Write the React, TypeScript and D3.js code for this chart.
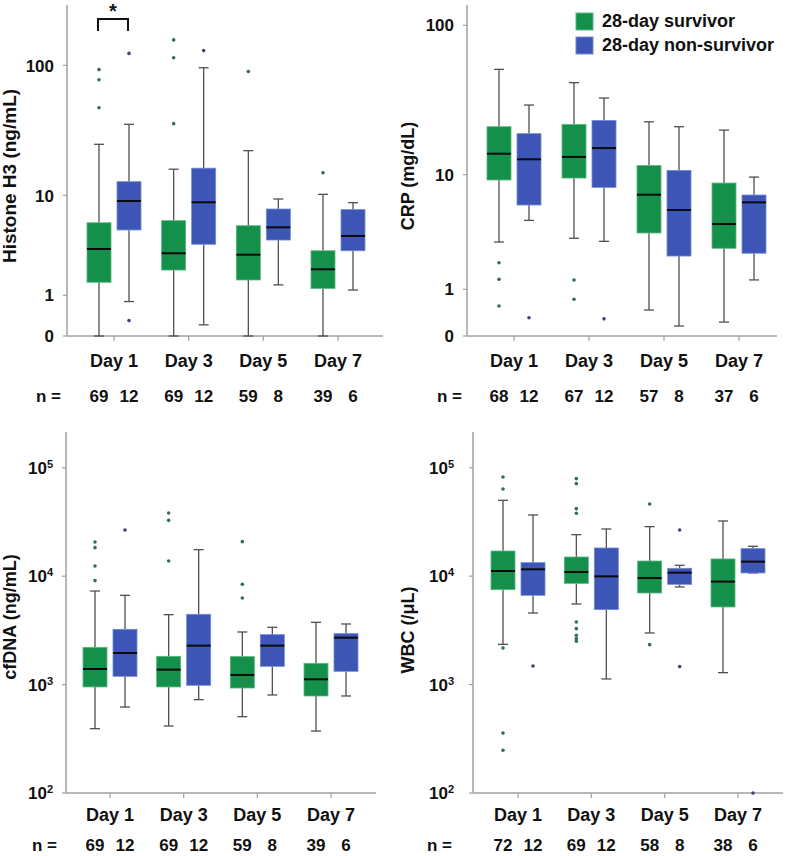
import React from "react";
import * as d3 from "d3";

// ---------- DATA ----------
const days = ["Day 1", "Day 3", "Day 5", "Day 7"];
const groups = ["28-day survivor", "28-day non-survivor"];

// box stats: [lowerWhisker, q1, median, q3, upperWhisker]
const histoneSurvivor = [
  [0, 1.5, 3.41, 5.9, 25.3],
  [0, 2.08, 3.1, 6.15, 16.2],
  [0, 1.6, 3.0, 5.56, 22.6],
  [0, 1.25, 2.12, 3.28, 10.2],
];
const histoneNonSurvivor = [
  [0.8, 5.1, 9.0, 12.9, 36],
  [0.21, 3.78, 8.78, 16.5, 96],
  [1.39, 4.14, 5.38, 7.72, 9.35],
  [1.19, 3.28, 4.51, 7.63, 8.72],
];
const histoneSurvivorOutliers = [[48, 78, 93], [36.4, 114, 155], [90], [15.2]];
const histoneNonSurvivorOutliers = [[0.3, 123], [129], [], []];
const histoneN = [[69, 12], [69, 12], [59, 8], [39, 6]];
const histoneTicks = [0, 1, 10, 100];

const crpSurvivor = [
  [3.04, 9.15, 14.0, 21.4, 51.5],
  [3.27, 9.45, 13.3, 22.2, 42.1],
  [0.47, 3.62, 7.16, 11.6, 23.1],
  [0.23, 2.68, 4.28, 8.7, 20.3],
];
const crpNonSurvivor = [
  [4.57, 6.0, 12.8, 19.2, 29.9],
  [3.08, 8.1, 15.3, 23.6, 33.3],
  [0.16, 2.28, 5.5, 10.7, 21.4],
  [1.3, 2.42, 6.28, 7.12, 9.6],
];
const crpSurvivorOutliers = [[0.56, 1.32, 1.97], [0.725, 1.3], [], []];
const crpNonSurvivorOutliers = [[0.31], [0.29], [], []];
const crpN = [[68, 12], [67, 12], [57, 8], [37, 6]];
const crpTicks = [0, 1, 10, 100];

const cfdnaSurvivor = [
  [392, 951, 1393, 2207, 7300],
  [415, 951, 1374, 1823, 4416],
  [506, 930, 1227, 1811, 3057],
  [373, 785, 1119, 1571, 3752],
];
const cfdnaNonSurvivor = [
  [621, 1192, 1956, 3236, 6660],
  [726, 985, 2287, 4450, 17570],
  [802, 1474, 2287, 2888, 3376],
  [785, 1326, 2710, 2951, 3624],
];
const cfdnaSurvivorOutliers = [[9100, 12420, 18340, 20660], [13800, 32740, 38300], [6295, 8410, 20830], []];
const cfdnaNonSurvivorOutliers = [[26700], [], [], []];
const cfdnaN = [[69, 12], [69, 12], [59, 8], [39, 6]];

const wbcSurvivor = [
  [2352, 7510, 11170, 17070, 50100],
  [5540, 8590, 10930, 15030, 24160],
  [2994, 6998, 9620, 13800, 28640],
  [1288, 5200, 8910, 14420, 32300],
];
const wbcNonSurvivor = [
  [4576, 6660, 11570, 13330, 36700],
  [1127, 4913, 9970, 18200, 27250],
  [7950, 8410, 10780, 11820, 12600],
  [10710, 10710, 13620, 17950, 18870],
];
const wbcSurvivorOutliers = [
  [248, 357, 2176, 63700, 82240],
  [2507, 2654, 2848, 3282, 3780, 38020, 41980, 71400, 79400],
  [2336, 46350],
  [],
];
const wbcNonSurvivorOutliers = [[1485], [], [1465, 26700], [100]];
const wbcN = [[72, 12], [69, 12], [58, 8], [38, 6]];
const powTicks = [100, 1000, 10000, 100000];

// ---------- STYLE ----------
const FONT = "'Liberation Sans', Arial, Helvetica, sans-serif";
const fills = ["#14904b", "#3d56b5"];
const strokes = ["#5cb585", "#7289d6"];
const dotColors = ["#2d6f5c", "#3a4380"];
const AXIS = "#a0a0a0";
const WHISK = "#505050";

type PanelCfg = {
  title: string;
  surv: number[][];
  non: number[][];
  survOut: number[][];
  nonOut: number[][];
  n: number[][];
  ticks: number[];
  kind: "symlog" | "log";
  domain: [number, number];
  axisX: number;
  xRight: number;
  yTop: number;
  yBottom: number;
  points: [number, number];
  labelX: number;
  labelY: number;
  labelSize: number;
  tickGap: number;
  dayY: number;
  nY: number;
  nX: number;
};

function Panel({ cfg }: { cfg: PanelCfg }) {
  const y: any =
    cfg.kind === "symlog"
      ? d3.scaleSymlog().constant(1).domain(cfg.domain).range([cfg.yBottom, cfg.yTop])
      : d3.scaleLog().domain(cfg.domain).range([cfg.yBottom, cfg.yTop]);
  const x = d3.scalePoint<string>().domain(days).range(cfg.points);
  const off = 15;
  const bw = 24;
  const cap = 10;
  const series = [
    { stats: cfg.surv, outs: cfg.survOut, dx: -off, gi: 0 },
    { stats: cfg.non, outs: cfg.nonOut, dx: off, gi: 1 },
  ];
  return (
    <g>
      {/* axes */}
      <line x1={cfg.axisX} x2={cfg.axisX} y1={cfg.yTop} y2={cfg.yBottom} stroke={AXIS} strokeWidth={1.5} />
      <line x1={cfg.axisX} x2={cfg.xRight} y1={cfg.yBottom} y2={cfg.yBottom} stroke={AXIS} strokeWidth={1.5} />
      {cfg.ticks.map((t) => (
        <g key={"t" + t}>
          <line x1={cfg.axisX - 4} x2={cfg.axisX} y1={y(t)} y2={y(t)} stroke={AXIS} strokeWidth={1.2} />
          <text
            x={cfg.axisX - cfg.tickGap}
            y={y(t)}
            dy="0.36em"
            textAnchor="end"
            fontFamily={FONT}
            fontWeight="bold"
            fontSize={17}
            fill="#111"
          >
            {cfg.kind === "log" ? (
              <>
                <tspan>10</tspan>
                <tspan dy="-0.55em" fontSize={11}>
                  {String(Math.round(Math.log10(t)))}
                </tspan>
              </>
            ) : (
              String(t)
            )}
          </text>
        </g>
      ))}
      {days.map((d) => (
        <g key={"x" + d}>
          <line x1={x(d)} x2={x(d)} y1={cfg.yBottom} y2={cfg.yBottom + 5} stroke={AXIS} strokeWidth={1.2} />
          <text x={x(d)} y={cfg.dayY} textAnchor="middle" fontFamily={FONT} fontWeight="bold" fontSize={18} fill="#111">
            {d}
          </text>
        </g>
      ))}
      {/* y label */}
      <text
        transform={`translate(${cfg.labelX},${cfg.labelY}) rotate(-90)`}
        textAnchor="middle"
        fontFamily={FONT}
        fontWeight="bold"
        fontSize={cfg.labelSize}
        fill="#111"
      >
        {cfg.title}
      </text>
      {/* boxes */}
      {series.map((s) =>
        days.map((d, i) => {
          const [lo, q1, med, q3, hi] = s.stats[i];
          const cx = (x(d) as number) + s.dx;
          return (
            <g key={s.gi + d}>
              <line x1={cx} x2={cx} y1={y(hi)} y2={y(q3)} stroke={WHISK} strokeWidth={1.3} />
              <line x1={cx} x2={cx} y1={y(q1)} y2={y(lo)} stroke={WHISK} strokeWidth={1.3} />
              <line x1={cx - cap / 2} x2={cx + cap / 2} y1={y(hi)} y2={y(hi)} stroke={WHISK} strokeWidth={1.3} />
              <line x1={cx - cap / 2} x2={cx + cap / 2} y1={y(lo)} y2={y(lo)} stroke={WHISK} strokeWidth={1.3} />
              <rect
                x={cx - bw / 2}
                y={y(q3)}
                width={bw}
                height={Math.max(1, y(q1) - y(q3))}
                fill={fills[s.gi]}
                stroke={strokes[s.gi]}
                strokeWidth={0.8}
              />
              <line x1={cx - bw / 2} x2={cx + bw / 2} y1={y(med)} y2={y(med)} stroke="#0a0a0a" strokeWidth={2} />
              {s.outs[i].map((o, k) => (
                <circle key={k} cx={cx} cy={y(o)} r={1.8} fill={dotColors[s.gi]} />
              ))}
            </g>
          );
        })
      )}
      {/* n row */}
      <text x={cfg.nX} y={cfg.nY} fontFamily={FONT} fontWeight="bold" fontSize={17} fill="#111">
        n =
      </text>
      {days.map((d, i) =>
        cfg.n[i].map((v, j) => (
          <text
            key={d + j}
            x={(x(d) as number) + (j === 0 ? -off : off)}
            y={cfg.nY}
            textAnchor="middle"
            fontFamily={FONT}
            fontWeight="bold"
            fontSize={17}
            fill="#111"
          >
            {v}
          </text>
        ))
      )}
    </g>
  );
}

export default function App() {
  const panels: PanelCfg[] = [
    {
      title: "Histone H3 (ng/mL)",
      surv: histoneSurvivor,
      non: histoneNonSurvivor,
      survOut: histoneSurvivorOutliers,
      nonOut: histoneNonSurvivorOutliers,
      n: histoneN,
      ticks: histoneTicks,
      kind: "symlog",
      domain: [0, 282],
      axisX: 67,
      xRight: 383,
      yTop: 5,
      yBottom: 336,
      points: [114, 338],
      labelX: 16,
      labelY: 176,
      labelSize: 19,
      tickGap: 13,
      dayY: 367,
      nY: 402,
      nX: 36,
    },
    {
      title: "CRP (mg/dL)",
      surv: crpSurvivor,
      non: crpNonSurvivor,
      survOut: crpSurvivorOutliers,
      nonOut: crpNonSurvivorOutliers,
      n: crpN,
      ticks: crpTicks,
      kind: "symlog",
      domain: [0, 135.6],
      axisX: 467,
      xRight: 777,
      yTop: 5,
      yBottom: 336,
      points: [514, 739],
      labelX: 414,
      labelY: 176,
      labelSize: 18,
      tickGap: 13,
      dayY: 367,
      nY: 402,
      nX: 437,
    },
    {
      title: "cfDNA (ng/mL)",
      surv: cfdnaSurvivor,
      non: cfdnaNonSurvivor,
      survOut: cfdnaSurvivorOutliers,
      nonOut: cfdnaNonSurvivorOutliers,
      n: cfdnaN,
      ticks: powTicks,
      kind: "log",
      domain: [100, 213800],
      axisX: 66,
      xRight: 376,
      yTop: 432,
      yBottom: 793,
      points: [110, 331],
      labelX: 16,
      labelY: 617,
      labelSize: 18,
      tickGap: 13,
      dayY: 821,
      nY: 851,
      nX: 32,
    },
    {
      title: "WBC (/μL)",
      surv: wbcSurvivor,
      non: wbcNonSurvivor,
      survOut: wbcSurvivorOutliers,
      nonOut: wbcNonSurvivorOutliers,
      n: wbcN,
      ticks: powTicks,
      kind: "log",
      domain: [100, 213800],
      axisX: 473,
      xRight: 783,
      yTop: 432,
      yBottom: 793,
      points: [518, 738],
      labelX: 414,
      labelY: 630,
      labelSize: 18,
      tickGap: 19,
      dayY: 821,
      nY: 851,
      nX: 427,
    },
  ];
  return (
    <svg
      width={787}
      height={856}
      style={{ position: "absolute", left: 0, top: 0, background: "#fff" }}
    >
      <rect width={787} height={856} fill="#fff" />
      {panels.map((p) => (
        <Panel key={p.title} cfg={p} />
      ))}
      {/* significance bracket */}
      <path d="M98,31 V19 H128 V31" fill="none" stroke="#111" strokeWidth={2} />
      <text x={113} y={18} textAnchor="middle" fontFamily={FONT} fontWeight="bold" fontSize={20} fill="#111">
        *
      </text>
      {/* legend */}
      {groups.map((g, i) => (
        <g key={g}>
          <rect x={576} y={13 + i * 24} width={17} height={17} fill={fills[i]} stroke={strokes[i]} strokeWidth={1} />
          <text x={602} y={27 + i * 24} fontFamily={FONT} fontWeight="bold" fontSize={18} fill="#111">
            {g}
          </text>
        </g>
      ))}
    </svg>
  );
}
